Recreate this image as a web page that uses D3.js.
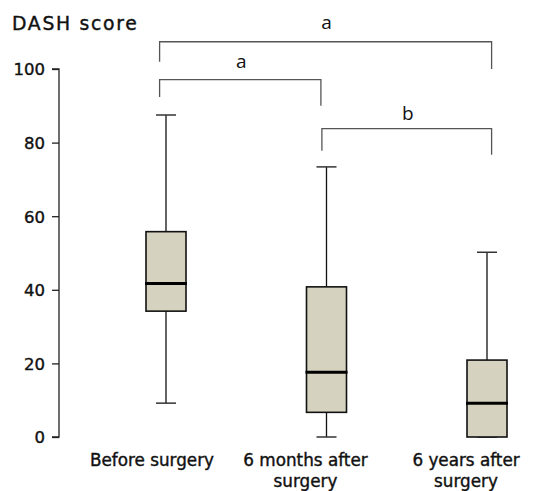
<!DOCTYPE html>
<html>
<head>
  <meta charset="utf-8">
  <title>DASH score</title>
  <style type="text/css">
    body{ margin:0; background:#fff; }
    text{ font-family: "DejaVu Sans", "Liberation Sans", sans-serif; }
    .lab{ fill:#111; stroke:#111; stroke-width:0.4px; }
  </style>
</head>
<body>
<div id="chart"></div>
<script src="https://d3js.org/d3.v7.min.js"></script>
<script type="text/javascript">
  // values
  var groups  = ["Before surgery", "6 months after surgery", "6 years after surgery"];
  var labels  = [["Before surgery"], ["6 months after", "surgery"], ["6 years after", "surgery"]];
  var wLow    = [9.2, 0, 0];
  var q1      = [34.2, 6.7, 0];
  var median  = [41.7, 17.6, 9.2];
  var q3      = [55.8, 40.8, 20.9];
  var wHigh   = [87.5, 73.4, 50.2];
  var yTicks  = [0, 20, 40, 60, 80, 100];

  // significance brackets: from group, to group, bar height, leg ends, letter
  var brFrom  = [0, 0, 1];
  var brTo    = [2, 1, 2];
  var brLevel = [107.4, 97.1, 83.8];
  var brLeft  = [102.0, 92.4, 77.8];
  var brRight = [100.0, 90.0, 76.7];
  var brText  = ["a", "a", "b"];
  var brTextY = [110.9, 100.4, 86.2];

  var svg = d3.select("#chart").append("svg")
      .attr("width", 547).attr("height", 491);

  var y = d3.scaleLinear().domain([0, 100]).range([437, 69]);
  var x = d3.scalePoint().domain(groups).range([166, 487]);
  var boxW = 40, capW = 20;

  // y axis
  var yAxis = d3.axisLeft(y).tickValues(yTicks).tickSize(7).tickPadding(7);
  var ga = svg.append("g").attr("transform", "translate(59,0)").call(yAxis);
  ga.select(".domain").attr("d", "M-7," + y(100) + "H0V" + y(0) + "H-7")
      .attr("stroke", "#222").attr("stroke-width", 1.3);
  ga.selectAll(".tick line").attr("stroke", "#222").attr("stroke-width", 1.3);
  ga.selectAll(".tick text").attr("class", "lab")
      .style("font-size", "16.5px").attr("dy", "0.36em");

  svg.append("text").attr("class", "lab").attr("x", 12).attr("y", 29.5)
      .style("font-size", "18.8px").style("letter-spacing", "1.7px")
      .text("DASH score");

  var data = groups.map(function (g, i) {
    return {g: g, lo: wLow[i], q1: q1[i], md: median[i], q3: q3[i], hi: wHigh[i], lab: labels[i]};
  });

  var box = svg.selectAll("g.box").data(data).enter().append("g").attr("class", "box");

  // whiskers
  box.append("line")
      .attr("x1", function (d) { return x(d.g); }).attr("x2", function (d) { return x(d.g); })
      .attr("y1", function (d) { return y(d.hi); }).attr("y2", function (d) { return y(d.lo); })
      .attr("stroke", "#111").attr("stroke-width", 1.3);
  box.selectAll("line.cap").data(function (d) { return [d.hi, d.lo].map(function (v) { return {g: d.g, v: v}; }); })
    .enter().append("line").attr("class", "cap")
      .attr("x1", function (d) { return x(d.g) - capW / 2; }).attr("x2", function (d) { return x(d.g) + capW / 2; })
      .attr("y1", function (d) { return y(d.v); }).attr("y2", function (d) { return y(d.v); })
      .attr("stroke", "#333").attr("stroke-width", 1.5);

  // boxes
  box.append("rect")
      .attr("x", function (d) { return x(d.g) - boxW / 2; })
      .attr("width", boxW)
      .attr("y", function (d) { return y(d.q3); })
      .attr("height", function (d) { return y(d.q1) - y(d.q3); })
      .attr("fill", "#d5d3bf").attr("stroke", "#111").attr("stroke-width", 1.6);
  box.append("line")
      .attr("x1", function (d) { return x(d.g) - boxW / 2 - 1; }).attr("x2", function (d) { return x(d.g) + boxW / 2 + 1; })
      .attr("y1", function (d) { return y(d.md); }).attr("y2", function (d) { return y(d.md); })
      .attr("stroke", "#000").attr("stroke-width", 3);

  // category labels
  box.append("text").attr("class", "lab")
      .attr("text-anchor", "middle")
      .style("font-size", "16.8px")
      .selectAll("tspan").data(function (d) { return d.lab.map(function (t) { return {g: d.g, t: t}; }); })
      .enter().append("tspan")
      .attr("x", function (d, i) { return x(d.g) - (d.g === groups[0] ? 14 : 21); })
      .attr("y", function (d, i) { return 465.5 + i * 21.5; })
      .text(function (d) { return d.t; });

  // brackets
  var endOff = [-6.4, -5.6, 4.6];   // where a bracket leg sits relative to the box centre
  brText.forEach(function (t, i) {
    var x1 = x(groups[brFrom[i]]) + (brFrom[i] === 0 ? endOff[0] : -4.6),
        x2 = x(groups[brTo[i]]) + endOff[brTo[i]];
    svg.append("path")
        .attr("d", "M" + x1 + "," + y(brLeft[i]) + "V" + y(brLevel[i]) + "H" + x2 + "V" + y(brRight[i]))
        .attr("fill", "none").attr("stroke", "#555").attr("stroke-width", 1.3);
    svg.append("text")
        .attr("x", (x1 + x2) / 2 + 1).attr("y", y(brTextY[i]))
        .attr("text-anchor", "middle")
        .style("font-family", "'Open Sans', sans-serif").style("font-size", "19px").attr("fill", "#111")
        .text(t);
  });
</script>
</body>
</html>
